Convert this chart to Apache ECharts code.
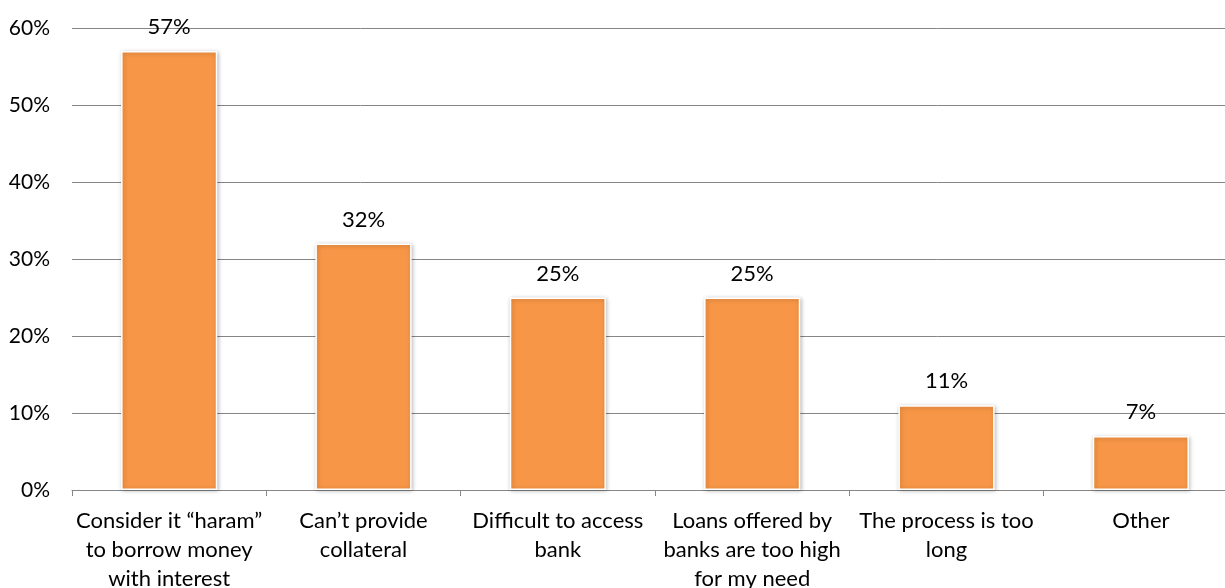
<!DOCTYPE html>
<html>
<head>
<meta charset="utf-8">
<script src="https://cdn.jsdelivr.net/npm/echarts@6/dist/echarts.min.js"></script>
<style>
  html, body { margin: 0; padding: 0; background: #fff; }
  #chart { width: 1225px; height: 588px; }
</style>
</head>
<body>
<div id="chart"></div>
<script>
// Reasons for not borrowing from banks (share of respondents, %)
const categories = [
  'Consider it \u201charam\u201d\nto borrow money\nwith interest',
  'Can\u2019t provide\ncollateral',
  'Difficult to access\nbank',
  'Loans offered by\nbanks are too high\nfor my need',
  'The process is too\nlong',
  'Other'
];
const shares = [57, 32, 25, 25, 11, 7];
const yTicks = { min: 0, max: 60, interval: 10 };

const FONT = 'Lato';
const chart = echarts.init(document.getElementById('chart'), null, { renderer: 'canvas' });
chart.setOption({
  animation: false,
  textStyle: { fontFamily: FONT },
  grid: {
    left: 72, right: -13, top: 28, bottom: 98,
    containLabel: false,
    outerBoundsMode: 'none'
  },
  xAxis: {
    type: 'category',
    data: categories,
    axisLine: { lineStyle: { color: '#868686', width: 1 } },
    axisTick: { show: true, length: 6, lineStyle: { color: '#868686' } },
    axisLabel: {
      interval: 0,
      margin: 16,
      fontSize: 22,
      lineHeight: 29,
      color: '#000',
      fontFamily: FONT
    }
  },
  yAxis: {
    type: 'value',
    min: yTicks.min,
    max: yTicks.max,
    interval: yTicks.interval,
    axisLine: { show: false },
    axisTick: { show: false },
    splitLine: { lineStyle: { color: '#868686', width: 1 } },
    axisLabel: {
      formatter: '{value}%',
      fontSize: 21,
      margin: 22,
      color: '#000',
      fontFamily: FONT
    }
  },
  series: [{
    type: 'bar',
    data: shares,
    barWidth: '49.5%',
    itemStyle: {
      color: '#F79646',
      borderColor: '#ffffff',
      borderWidth: 1.5,
      shadowColor: 'rgba(0,0,0,0.25)',
      shadowBlur: 4,
      shadowOffsetX: 1,
      shadowOffsetY: 1
    },
    label: {
      show: true,
      position: 'top',
      distance: 13,
      formatter: p => p.value + '%',
      fontSize: 22,
      color: '#000',
      fontFamily: FONT
    }
  }]
});
</script>
</body>
</html>
